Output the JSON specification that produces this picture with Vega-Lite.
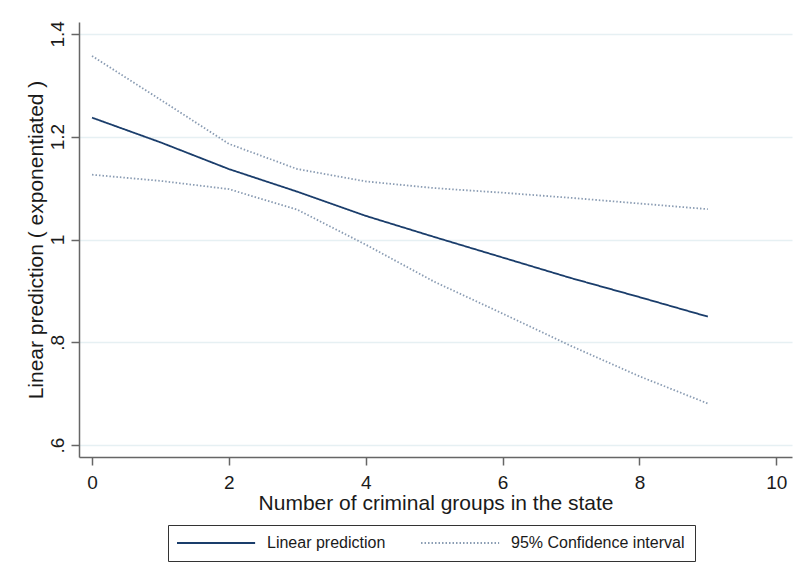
{
  "$schema": "https://vega.github.io/schema/vega-lite/v6.json",
  "width": 713,
  "height": 435,
  "autosize": {"type": "none"},
  "padding": {"left": 79, "top": 22, "right": 9, "bottom": 124},
  "background": "white",
  "config": {
    "font": "Liberation Sans",
    "view": {"stroke": null},
    "axis": {
      "domainColor": "#666666",
      "domainWidth": 1.5,
      "tickColor": "#666666",
      "tickWidth": 1.5,
      "tickSize": 8,
      "labelColor": "#1a1a1a",
      "titleColor": "#1a1a1a",
      "labelFont": "Liberation Sans",
      "titleFont": "Liberation Sans",
      "titleFontWeight": "normal"
    },
    "legend": {
      "orient": "none",
      "legendX": 89,
      "legendY": 503,
      "direction": "horizontal",
      "strokeColor": "#333333",
      "padding": 10,
      "labelFontSize": 16,
      "labelFont": "Liberation Sans",
      "labelColor": "#1a1a1a",
      "labelLimit": 300,
      "symbolType": "M-2.3,0H17.7",
      "symbolSize": 61,
      "symbolStrokeWidth": 1.8,
      "labelOffset": 73,
      "columnPadding": 31
    }
  },
  "data": {
    "values": [
      {"groups": 0, "value": 1.237, "series": "Linear prediction", "line": "pred"},
      {"groups": 1, "value": 1.189, "series": "Linear prediction", "line": "pred"},
      {"groups": 2, "value": 1.137, "series": "Linear prediction", "line": "pred"},
      {"groups": 3, "value": 1.093, "series": "Linear prediction", "line": "pred"},
      {"groups": 4, "value": 1.046, "series": "Linear prediction", "line": "pred"},
      {"groups": 5, "value": 1.005, "series": "Linear prediction", "line": "pred"},
      {"groups": 6, "value": 0.965, "series": "Linear prediction", "line": "pred"},
      {"groups": 7, "value": 0.925, "series": "Linear prediction", "line": "pred"},
      {"groups": 8, "value": 0.888, "series": "Linear prediction", "line": "pred"},
      {"groups": 9, "value": 0.850, "series": "Linear prediction", "line": "pred"},
      {"groups": 0, "value": 1.126, "series": "95% Confidence interval", "line": "lower"},
      {"groups": 1, "value": 1.114, "series": "95% Confidence interval", "line": "lower"},
      {"groups": 2, "value": 1.098, "series": "95% Confidence interval", "line": "lower"},
      {"groups": 3, "value": 1.058, "series": "95% Confidence interval", "line": "lower"},
      {"groups": 4, "value": 0.990, "series": "95% Confidence interval", "line": "lower"},
      {"groups": 5, "value": 0.918, "series": "95% Confidence interval", "line": "lower"},
      {"groups": 6, "value": 0.856, "series": "95% Confidence interval", "line": "lower"},
      {"groups": 7, "value": 0.793, "series": "95% Confidence interval", "line": "lower"},
      {"groups": 8, "value": 0.734, "series": "95% Confidence interval", "line": "lower"},
      {"groups": 9, "value": 0.681, "series": "95% Confidence interval", "line": "lower"},
      {"groups": 0, "value": 1.357, "series": "95% Confidence interval", "line": "upper"},
      {"groups": 1, "value": 1.272, "series": "95% Confidence interval", "line": "upper"},
      {"groups": 2, "value": 1.186, "series": "95% Confidence interval", "line": "upper"},
      {"groups": 3, "value": 1.137, "series": "95% Confidence interval", "line": "upper"},
      {"groups": 4, "value": 1.113, "series": "95% Confidence interval", "line": "upper"},
      {"groups": 5, "value": 1.100, "series": "95% Confidence interval", "line": "upper"},
      {"groups": 6, "value": 1.091, "series": "95% Confidence interval", "line": "upper"},
      {"groups": 7, "value": 1.081, "series": "95% Confidence interval", "line": "upper"},
      {"groups": 8, "value": 1.070, "series": "95% Confidence interval", "line": "upper"},
      {"groups": 9, "value": 1.059, "series": "95% Confidence interval", "line": "upper"}
    ]
  },
  "mark": {"type": "line", "strokeWidth": 1.8, "strokeCap": "butt"},
  "encoding": {
    "x": {
      "field": "groups",
      "type": "quantitative",
      "scale": {"domain": [-0.19, 10.23], "nice": false, "zero": false},
      "axis": {
        "values": [0, 2, 4, 6, 8, 10],
        "grid": false,
        "title": "Number of criminal groups in the state",
        "labelFontSize": 19,
        "titleFontSize": 21,
        "labelPadding": 8,
        "titlePadding": 0,
        "labelFlush": false
      }
    },
    "y": {
      "field": "value",
      "type": "quantitative",
      "scale": {"domain": [0.577, 1.423], "nice": false, "zero": false},
      "axis": {
        "values": [0.6, 0.8, 1, 1.2, 1.4],
        "labelExpr": "datum.value == 1 ? '1' : replace(format(datum.value, '.1f'), /^0/, '')",
        "grid": true,
        "gridColor": "#e6f0f3",
        "gridWidth": 1.5,
        "title": "Linear prediction ( exponentiated )",
        "labelFontSize": 19,
        "titleFontSize": 21,
        "labelAngle": -90,
        "labelAlign": "center",
        "labelBaseline": "bottom",
        "labelPadding": 4,
        "titlePadding": 2,
        "labelFlush": false
      }
    },
    "detail": {"field": "line"},
    "color": {
      "field": "series",
      "type": "nominal",
      "scale": {"domain": ["Linear prediction", "95% Confidence interval"], "range": ["#1a3d6b", "#8a9cb3"]},
      "legend": {"title": null}
    },
    "strokeDash": {
      "field": "series",
      "type": "nominal",
      "scale": {"domain": ["Linear prediction", "95% Confidence interval"], "range": [[1, 0], [1.5, 2]]},
      "legend": {"title": null}
    }
  }
}
